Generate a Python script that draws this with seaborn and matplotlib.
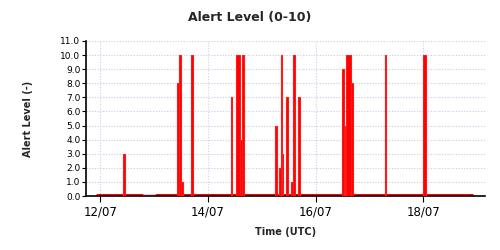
import matplotlib
matplotlib.use("Agg")
import matplotlib.pyplot as plt
import seaborn as sns
import numpy as np
import pandas as pd

# Alert events: start (day of July, fractional), end, level
event_start = [12.431, 13.425, 13.471, 13.490, 13.694, 14.428, 14.512, 14.604, 14.623,
               15.245, 15.320, 15.357, 15.381, 15.450, 15.533, 15.585, 15.673,
               16.490, 16.545, 16.564, 16.657, 17.284, 17.995]
event_end = [12.459, 13.462, 13.490, 13.536, 13.713, 14.447, 14.604, 14.623, 14.660,
             15.273, 15.348, 15.375, 15.400, 15.478, 15.570, 15.608, 15.701,
             16.527, 16.564, 16.657, 16.694, 17.312, 18.041]
event_level = [3, 8, 10, 1, 10, 7, 10, 4, 10,
               5, 2, 10, 3, 7, 1, 10, 7,
               9, 5, 10, 8, 10, 10]

# Periods with data (level 0 baseline) and a gap without data
data_start = [11.92, 13.02]
data_end = [12.80, 18.93]
gap_start = [12.80]
gap_end = [13.02]

x_ticks = [12, 14, 16, 18]
x_tick_labels = ["12/07", "14/07", "16/07", "18/07"]
y_ticks = [0, 1, 2, 3, 4, 5, 6, 7, 8, 9, 10, 11]

sns.set_theme(style="white")
plt.rcParams['font.family'] = ['DejaVu Sans']

fig = plt.figure(figsize=(5, 2.5), dpi=100)
ax = fig.add_axes([0.172, 0.216, 0.798, 0.62])

df = pd.DataFrame({"start": event_start, "end": event_end, "level": event_level})
df["width"] = df["end"] - df["start"]

# grid
for yv in y_ticks[1:]:
    ax.axhline(yv, color="#c9c9ea", lw=0.8, ls=(0, (1, 1.5)), zorder=0)
for xv in x_ticks:
    ax.axvline(xv, color="#cfcfe6", lw=0.8, ls=(0, (1, 1.5)), zorder=0)

# baseline segments
for s, e in zip(data_start, data_end):
    ax.plot([s, e], [0.05, 0.05], color="#ff0000", lw=2.2, solid_capstyle="butt", zorder=2)
for s, e in zip(gap_start, gap_end):
    ax.plot([s, e], [0.05, 0.05], color="#f4c0c8", lw=2.2, solid_capstyle="butt", zorder=2)

ax.bar(df["start"], df["level"], width=df["width"], align="edge",
       color="#ff0000", edgecolor="#ff1a1a", linewidth=0.8, zorder=3)

ax.set_xlim(11.735, 19.145)
ax.set_ylim(0, 11)
ax.set_xticks(x_ticks)
ax.set_xticklabels(x_tick_labels, fontsize=8.5)
ax.set_yticks(y_ticks)
ax.set_yticklabels([f"{v:.1f}" for v in y_ticks], fontsize=6.5)

for side in ["top", "right"]:
    ax.spines[side].set_visible(False)
for side in ["left", "bottom"]:
    ax.spines[side].set_color("black")
    ax.spines[side].set_linewidth(1.2)

ax.tick_params(axis="y", which="both", left=True, length=3, width=0.8, pad=1, colors="black")
ax.tick_params(axis="x", which="both", bottom=True, length=4, width=0.8, pad=3, colors="black")

ax.set_xlabel("Time (UTC)", fontsize=7, fontweight="bold", labelpad=6)
ax.set_ylabel("Alert Level (-)", fontsize=7, fontweight="bold", labelpad=20)
fig.text(0.5, 0.93, "Alert Level (0-10)", ha="center", va="center",
         fontsize=9, fontweight="bold")

fig.savefig("out.png", dpi=100)
